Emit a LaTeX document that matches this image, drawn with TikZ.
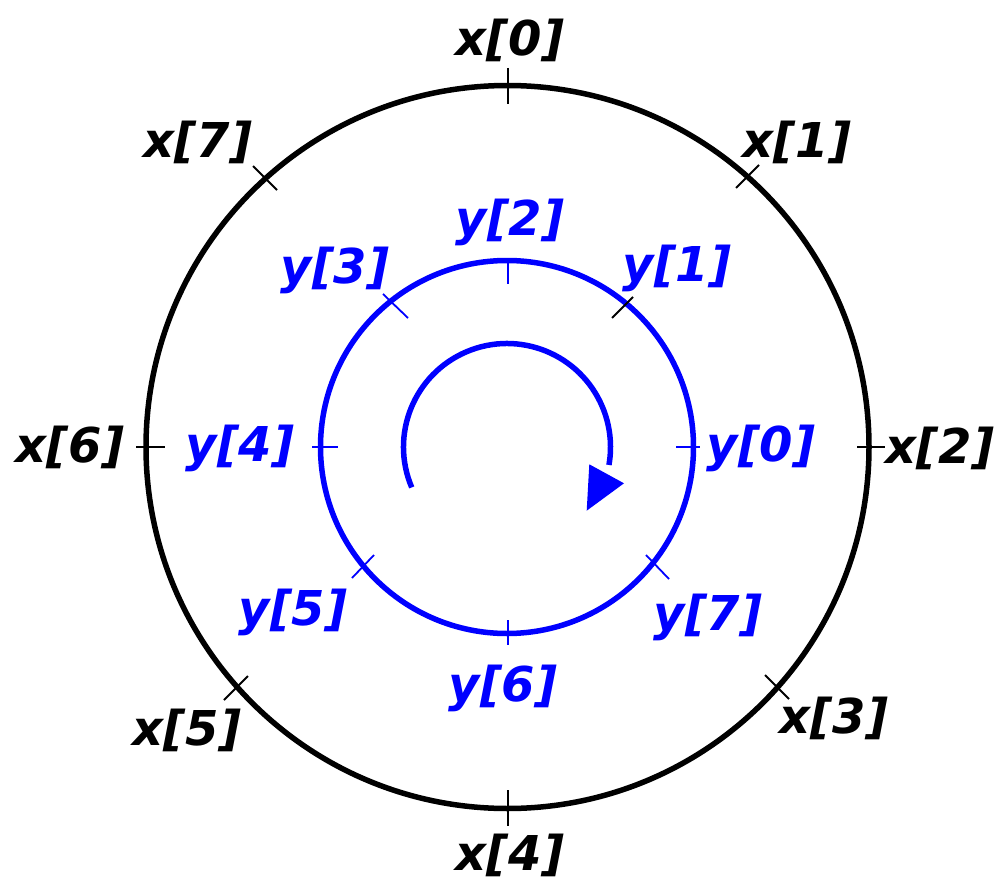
\documentclass[tikz,border=0pt]{standalone}
\usepackage{fontspec}
\newfontfamily\lblfont{DejaVu Sans}
\begin{document}
\begin{tikzpicture}[x=1pt,y=1pt,
  lbl/.style={font=\lblfont\fontsize{48}{52}\selectfont\bfseries\itshape, inner sep=0pt, anchor=center},
  xl/.style={lbl, text=black},
  yl/.style={lbl, text=blue},
  ring/.style={line width=5.5pt},
  tick/.style={line width=1.8pt}]
\useasboundingbox (0,0) rectangle (996,-880);
% circles
\draw[ring, black] (507.5,-447) circle[radius=361.5];
\draw[ring, blue] (507,-447) circle[radius=186.5];
% outer ticks
\draw[tick, black] (508,-68) -- (508,-104);
\draw[tick, black] (508,-790) -- (508,-826);
\draw[tick, black] (136,-447) -- (165,-447);
\draw[tick, black] (857,-447) -- (885,-447);
\draw[tick, black] (736,-188) -- (759,-165);
\draw[tick, black] (765,-675) -- (789,-699);
\draw[tick, black] (224,-700) -- (248,-676);
\draw[tick, black] (253,-166) -- (277,-190);
% inner ticks
\draw[tick, blue] (508,-259) -- (508,-284);
\draw[tick, blue] (508,-620) -- (508,-645);
\draw[tick, blue] (312,-447) -- (338,-447);
\draw[tick, blue] (676,-447) -- (700,-447);
\draw[tick, black] (612,-318) -- (633,-297);
\draw[tick, blue] (383,-294) -- (408,-318);
\draw[tick, blue] (352,-578) -- (374,-555);
\draw[tick, blue] (646,-555) -- (669,-579);
% rotation arrow
\draw[ring, blue] (507,-447) ++(203:103.5) arc[start angle=203, end angle=-10, radius=103.5];
\fill[blue] (589.3,-464.3) -- (624,-483.3) -- (586.7,-510.7) -- cycle;
% labels
\node[xl] (x0) at (510,-40) {x[0]};
\node[xl] (x1) at (797,-142) {x[1]};
\node[xl] (x2) at (940,-448) {x[2]};
\node[xl] (x3) at (834,-718) {x[3]};
\node[xl] (x4) at (510,-855) {x[4]};
\node[xl] (x5) at (187,-730) {x[5]};
\node[xl] (x6) at (70,-447) {x[6]};
\node[xl] (x7) at (198,-142) {x[7]};
\node[yl] (y0) at (761,-448) {y[0]};
\node[yl] (y1) at (677,-268) {y[1]};
\node[yl] (y2) at (510,-222) {y[2]};
\node[yl] (y3) at (335,-270) {y[3]};
\node[yl] (y4) at (240,-448) {y[4]};
\node[yl] (y5) at (293,-612) {y[5]};
\node[yl] (y6) at (503,-688) {y[6]};
\node[yl] (y7) at (708,-617) {y[7]};
\end{tikzpicture}
\end{document}
